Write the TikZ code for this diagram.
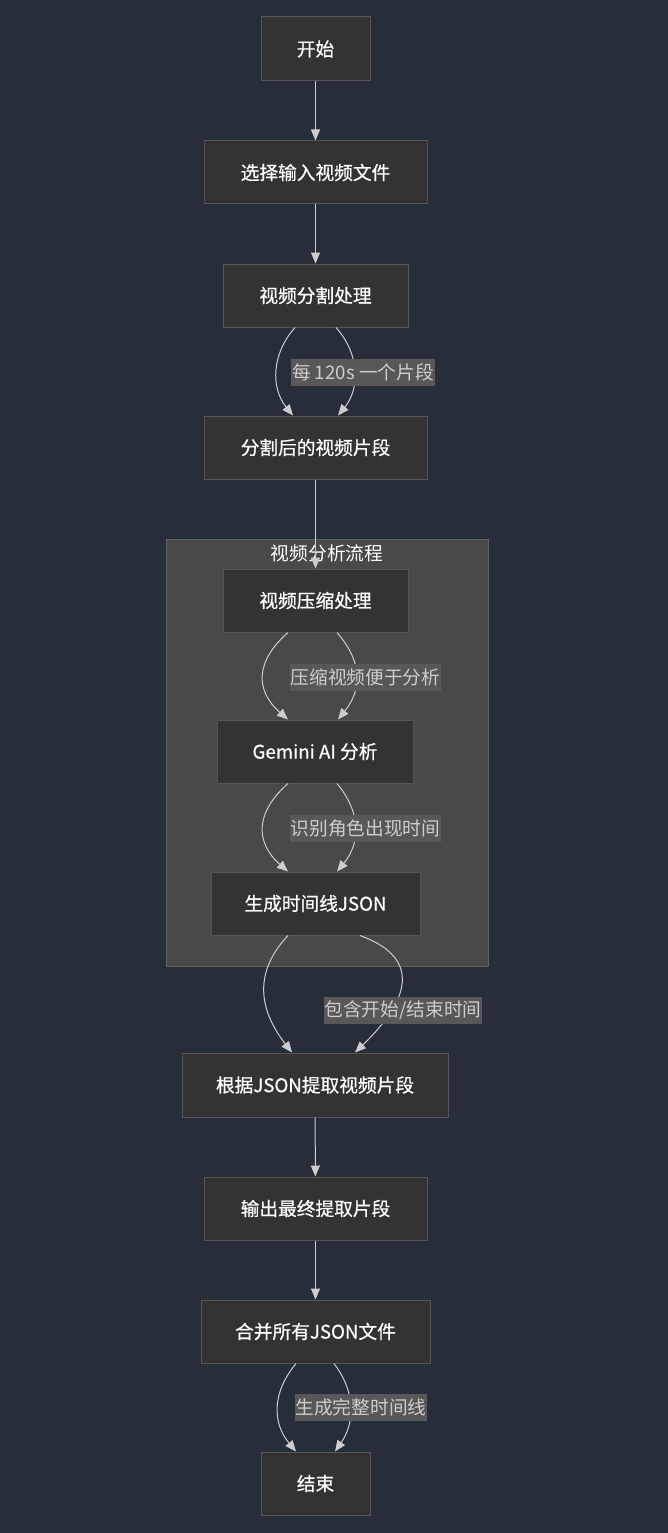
\documentclass[tikz,border=0pt]{standalone}
\usepackage{fontspec}
\setmainfont{Noto Sans CJK SC}
\newfontfamily\nodefont{Noto Sans CJK SC}[FakeBold=0.5]
\usetikzlibrary{arrows.meta}
\definecolor{bgc}{RGB}{40,45,58}
\definecolor{nodefill}{RGB}{51,51,51}
\definecolor{nodeborder}{RGB}{84,84,84}
\definecolor{subfill}{RGB}{72,73,72}
\definecolor{subborder}{RGB}{98,98,98}
\definecolor{lblfill}{RGB}{88,88,88}
\definecolor{lbltext}{RGB}{205,205,205}
\definecolor{edgec}{RGB}{205,205,205}
\begin{document}
\begin{tikzpicture}[x=1pt,y=-1pt,
  box/.style={draw=nodeborder, fill=nodefill, line width=1pt, text=white, inner sep=0pt,
    minimum height=63pt, font=\nodefont\fontsize{18.7}{22}\selectfont},
  lbl/.style={fill=lblfill, text=lbltext, inner sep=1pt, minimum height=27pt,
    font=\fontsize{18.7}{22}\selectfont},
  sub/.style={draw=subborder, fill=subfill, line width=1pt, inner sep=0pt},
  sgtitle/.style={text=white, inner sep=0pt, font=\fontsize{18.7}{22}\selectfont},
  edge/.style={draw=edgec, line width=1pt, -{Triangle[length=11pt,width=9pt,fill=edgec]}}
]
\fill[bgc] (0,0) rectangle (668,1533);
\useasboundingbox (0,0) rectangle (668,1533);

% subgraph
\node[sub, minimum width=322pt, minimum height=427pt] (sg) at (327,752.5) {};
\node[sgtitle] (sgt) at (327,553) {视频分析流程};

% nodes
\node[box, minimum width=109pt, minimum height=64pt] (start) at (315.5,49) {开始};
\node[box, minimum width=223pt] (sel) at (315.5,172.5) {选择输入视频文件};
\node[box, minimum width=185pt] (split) at (315.5,295.5) {视频分割处理};
\node[box, minimum width=223pt] (seg) at (315.5,447.5) {分割后的视频片段};
\node[box, minimum width=185pt] (comp) at (315.5,600.5) {视频压缩处理};
\node[box, minimum width=196pt] (gem) at (315,751.5) {Gemini AI 分析};
\node[box, minimum width=209pt] (json) at (315.5,903.5) {生成时间线JSON};
\node[box, minimum width=266pt, minimum height=64pt] (ext) at (315,1085) {根据JSON提取视频片段};
\node[box, minimum width=223pt] (out) at (315.5,1208.5) {输出最终提取片段};
\node[box, minimum width=229pt] (merge) at (315.5,1331.5) {合并所有JSON文件};
\node[box, minimum width=109pt] (end) at (315.5,1483.5) {结束};

% straight edges
\draw[edge] (start) -- (sel);
\draw[edge] (sel) -- (split);
\draw[edge] (seg) -- (comp);
\draw[edge] (ext) -- (out);
\draw[edge] (out) -- (merge);

% curved double edges
\draw[edge] ([xshift=-20.5pt]split.south) .. controls +(-24,27) and +(-22,-27) .. ([xshift=-22.5pt]seg.north);
\draw[edge] ([xshift=20.5pt]split.south) .. controls +(24,27) and +(22,-27) .. ([xshift=22.5pt]seg.north);
\node[lbl] (l1) at (363,372) {每 120s 一个片段};

\draw[edge] ([xshift=-27.5pt]comp.south) .. controls +(-33,29) and +(-33,-29) .. ([xshift=-27pt]gem.north);
\draw[edge] ([xshift=21.5pt]comp.south) .. controls +(26,30) and +(24,-30) .. ([xshift=23pt]gem.north);
\node[lbl] (l2) at (365.5,677) {压缩视频便于分析};

\draw[edge] ([xshift=-27pt]gem.south) .. controls +(-33,29) and +(-33,-29) .. ([xshift=-27.5pt]json.north);
\draw[edge] ([xshift=22pt]gem.south) .. controls +(24,29) and +(24,-29) .. ([xshift=21.5pt]json.north);
\node[lbl] (l3) at (365.5,828) {识别角色出现时间};

\draw[edge] ([xshift=-27.5pt]json.south) .. controls +(-33,35) and +(-35,-45) .. ([xshift=-23pt]ext.north);
\draw[edge] ([xshift=44.5pt]json.south) .. controls +(55,20) and +(62,-60) .. ([xshift=40pt]ext.north);
\node[lbl] (l4) at (403,1010) {包含开始/结束时间};

\draw[edge] ([xshift=-19.5pt]merge.south) .. controls +(-24,29) and +(-24,-29) .. ([xshift=-19.5pt]end.north);
\draw[edge] ([xshift=18.5pt]merge.south) .. controls +(22,29) and +(20,-29) .. ([xshift=19.5pt]end.north);
\node[lbl] (l5) at (361,1407.5) {生成完整时间线};
\end{tikzpicture}
\end{document}
